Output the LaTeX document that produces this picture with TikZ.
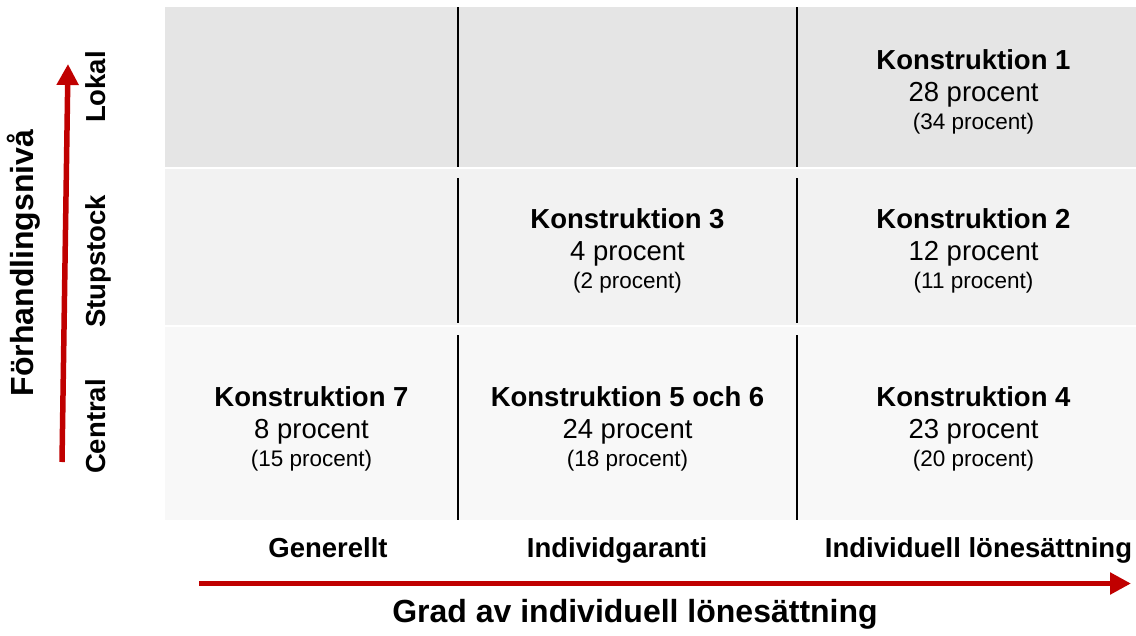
\documentclass[tikz,border=0pt]{standalone}
\usepackage{fontspec}
\setmainfont{Liberation Sans}
\usetikzlibrary{arrows.meta}
\definecolor{axisred}{HTML}{C00000}
\definecolor{bandA}{HTML}{E5E5E5}
\definecolor{bandB}{HTML}{F2F2F2}
\definecolor{bandC}{HTML}{F8F8F8}
\tikzset{
  band/.style={draw=none},
  divider/.style={line width=2pt, black},
  axisarrow/.style={line width=5.5pt, axisred, -{Triangle[length=21pt,width=21pt]}},
  titletxt/.style={font=\bfseries\fontsize{27.5}{33}\selectfont, anchor=base, inner sep=0pt},
  valtxt/.style={font=\fontsize{27.5}{33}\selectfont, anchor=base, inner sep=0pt},
  smalltxt/.style={font=\fontsize{22.5}{27}\selectfont, anchor=base, inner sep=0pt},
  axislabel/.style={font=\bfseries\fontsize{27.5}{33}\selectfont, anchor=base, inner sep=0pt},
  bigtxt/.style={font=\bfseries\fontsize{32}{38}\selectfont, anchor=base, inner sep=0pt},
}
\begin{document}
\begin{tikzpicture}[x=1pt,y=-1pt]
\useasboundingbox (0,0) rectangle (1136,635);
\fill[white] (0,0) rectangle (1136,635);
% bands
\fill[bandA] (165,7) rectangle (1136,167);
\fill[bandB] (165,169) rectangle (1136,325);
\fill[bandC] (165,327) rectangle (1136,520);
% dividers
\foreach \xx/\nm in {458/a,797/b}{
  \coordinate (\nm1t) at (\xx,7);   \coordinate (\nm1b) at (\xx,167);
  \coordinate (\nm2t) at (\xx,178); \coordinate (\nm2b) at (\xx,323);
  \coordinate (\nm3t) at (\xx,335); \coordinate (\nm3b) at (\xx,520);
  \draw[divider] (\nm1t) -- (\nm1b);
  \draw[divider] (\nm2t) -- (\nm2b);
  \draw[divider] (\nm3t) -- (\nm3b);
}
% axes
\coordinate (vstart) at (62,462);
\coordinate (vend) at (68,64);
\draw[axisarrow] (vstart) -- (vend);
\coordinate (hstart) at (199,583.5);
\coordinate (hend) at (1131,583.5);
\draw[axisarrow] (hstart) -- (hend);
% axis titles
\node[bigtxt, rotate=90] (ytitle) at (34,263) {Förhandlingsnivå};
\node[bigtxt] (xtitle) at (635,622) {Grad av individuell lönesättning};
% level labels
\node[axislabel, rotate=90] (lokal) at (105,87) {Lokal};
\node[axislabel, rotate=90] (stup) at (105,261.5) {Stupstock};
\node[axislabel, rotate=90] (central) at (105,426.5) {Central};
% column labels
\node[axislabel] (gen) at (328,557) {Generellt};
\node[axislabel] (indg) at (617,557) {Individgaranti};
\node[axislabel] (indl) at (978.5,557) {Individuell lönesättning};
% cells
\node[titletxt] (k1) at (973.5,69) {Konstruktion 1};
\node[valtxt] (k1v) at (973.5,101) {28 procent};
\node[smalltxt] (k1s) at (973.5,129) {(34 procent)};
\node[titletxt] (k3) at (627.5,228) {Konstruktion 3};
\node[valtxt] (k3v) at (627.5,260) {4 procent};
\node[smalltxt] (k3s) at (627.5,288) {(2 procent)};
\node[titletxt] (k2) at (973.5,228) {Konstruktion 2};
\node[valtxt] (k2v) at (973.5,260) {12 procent};
\node[smalltxt] (k2s) at (973.5,288) {(11 procent)};
\node[titletxt] (k7) at (311.5,406) {Konstruktion 7};
\node[valtxt] (k7v) at (311.5,438) {8 procent};
\node[smalltxt] (k7s) at (311.5,466) {(15 procent)};
\node[titletxt] (k56) at (627.5,406) {Konstruktion 5 och 6};
\node[valtxt] (k56v) at (627.5,438) {24 procent};
\node[smalltxt] (k56s) at (627.5,466) {(18 procent)};
\node[titletxt] (k4) at (973.5,406) {Konstruktion 4};
\node[valtxt] (k4v) at (973.5,438) {23 procent};
\node[smalltxt] (k4s) at (973.5,466) {(20 procent)};
\end{tikzpicture}
\end{document}
